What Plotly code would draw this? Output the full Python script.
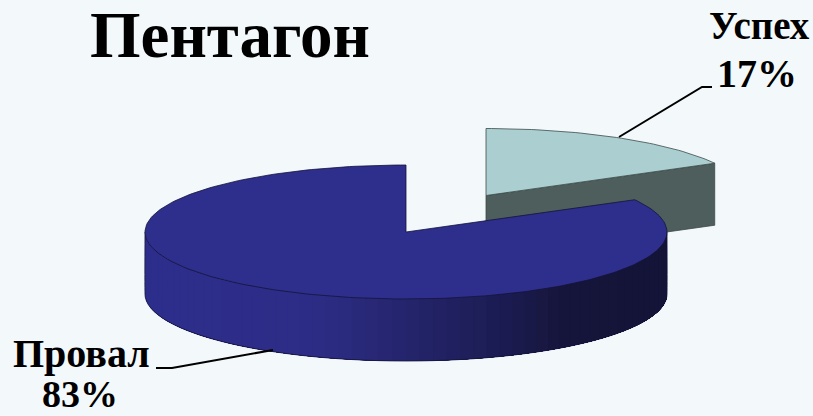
import numpy as np
import plotly.graph_objects as go

# Data
categories = ["Успех", "Провал"]
shares = [17, 83]
percent_labels = ["17%", "83%"]
chart_title = "Пентагон"

# Geometry of the drawing (pixels)
W, H = 813, 416
RX, RY, DEPTH = 261, 67, 62
CENTER_BIG = (406, 232)
CENTER_SMALL = (486, 195.5)
BG = "#F3F8FB"
LIGHT, DARK = "#ABCFD1", "#4E5E5C"
BLUE = "#2E2E8C"
OUT = "#14143A"
GRAD_X = [145, 300, 350, 420, 500, 560, 667]
GRAD_C = [(46, 46, 140), (45, 45, 136), (42, 42, 124), (35, 35, 104),
          (28, 28, 82), (22, 22, 60), (20, 20, 56)]

end_deg = 360 * shares[0] / sum(shares)  # clockwise from 12 o'clock


def rim(c, t):
    t = np.radians(t)
    return c[0] + RX * np.sin(t), c[1] - RY * np.cos(t)


def poly(fig, x, y, fill, line=None, width=1):
    fig.add_trace(go.Scatter(
        x=list(x), y=list(y), mode="lines", fill="toself", fillcolor=fill,
        line=dict(color=line or fill, width=width), hoverinfo="skip", showlegend=False))


fig = go.Figure()

# Small slice: cut wall and top
ex, ey = rim(CENTER_SMALL, end_deg)
cx, cy = CENTER_SMALL
poly(fig, [cx, ex, ex, cx, cx], [cy, ey, ey + DEPTH, cy + DEPTH, cy], DARK, "#3C4A48", 0.8)
tx, ty = rim(CENTER_SMALL, np.linspace(0, end_deg, 50))
poly(fig, [cx, *tx, cx], [cy, *ty, cy], LIGHT, "#3C4A48", 0.8)

# Big slice: shaded rim wall, painted left to right, each band covering the rest of the arc
ts = np.linspace(270, 90, 61)
for a in ts[:-1]:
    sx, sy = rim(CENTER_BIG, np.linspace(a, 90, 60))
    xm = sx[0] + 2
    col = [int(np.interp(xm, GRAD_X, [c[i] for c in GRAD_C])) for i in range(3)]
    fig.add_trace(go.Scatter(
        x=[*sx, *sx[::-1], sx[0]], y=[*sy, *(sy[::-1] + DEPTH), sy[0]], mode="lines", fill="toself",
        fillcolor=f"rgb({col[0]},{col[1]},{col[2]})", line=dict(width=0), hoverinfo="skip", showlegend=False))

# Outline of the rim wall
bx, by = rim(CENTER_BIG, ts)
fig.add_trace(go.Scatter(x=[bx[0], *bx, bx[-1]], y=[by[0], *(by + DEPTH), by[-1]], mode="lines",
                         line=dict(color=OUT, width=0.8, shape="spline"), hoverinfo="skip", showlegend=False))

# Big slice: top
gx, gy = rim(CENTER_BIG, np.linspace(end_deg, 360, 240))
poly(fig, [CENTER_BIG[0], *gx, CENTER_BIG[0]], [CENTER_BIG[1], *gy, CENTER_BIG[1]], BLUE, OUT, 0.8)

# Leader lines
for lx, ly in [([619, 702, 712], [137, 87, 87]), ([156, 172, 273], [368, 368, 350])]:
    fig.add_trace(go.Scatter(x=lx, y=ly, mode="lines", line=dict(color="#000000", width=2),
                             hoverinfo="skip", showlegend=False))


def label(text, x, y, size):
    fig.add_annotation(x=x, y=y, text=f"<b>{text}</b>", showarrow=False, xanchor="center", yanchor="middle",
                       font=dict(family="Liberation Serif", size=size, color="#000000"))


label(chart_title, 230, 35, 65)
label(categories[0], 759, 25, 39)
label(percent_labels[0], 757, 73, 40)
label(categories[1], 81, 353, 40)
label(percent_labels[1], 80, 394, 38)

fig.update_layout(
    width=W, height=H, margin=dict(l=0, r=0, t=0, b=0),
    paper_bgcolor=BG, plot_bgcolor=BG, showlegend=False,
    xaxis=dict(range=[0, W], visible=False, fixedrange=True),
    yaxis=dict(range=[H, 0], visible=False, fixedrange=True),
)
fig.write_html("out.html", config={"displayModeBar": False},
               post_script="document.body.style.margin='0';document.body.style.overflow='hidden';document.body.style.background='#F3F8FB';")
